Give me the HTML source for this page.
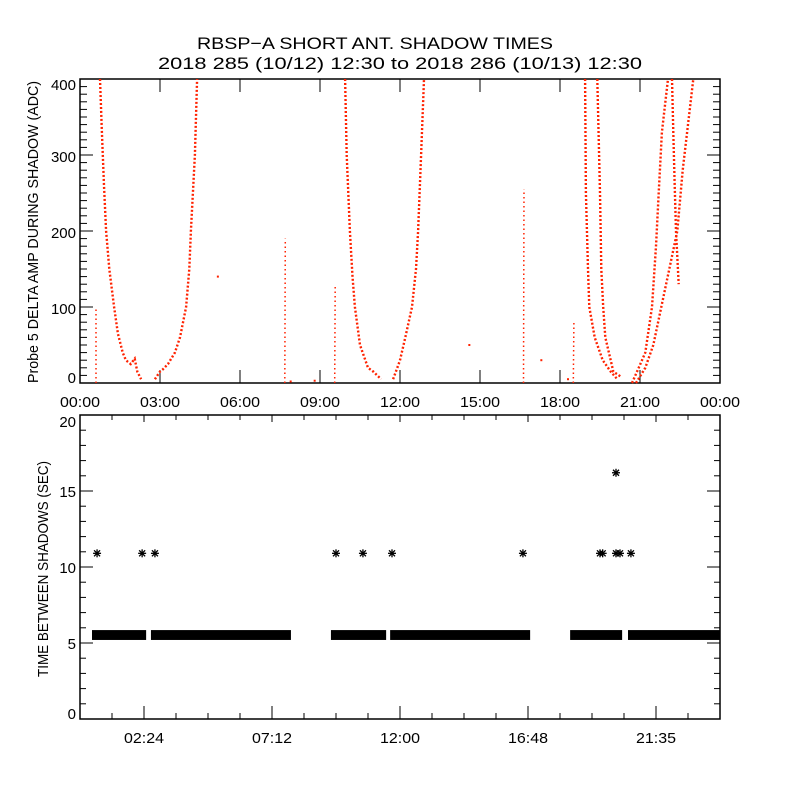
<!DOCTYPE html>
<html><head><meta charset="utf-8"><style>
html,body{margin:0;padding:0;background:#fff;}
svg{display:block;font-family:"Liberation Sans",sans-serif;}
</style></head><body>
<svg id="chart" width="800" height="800" viewBox="0 0 800 800">
<rect width="800" height="800" fill="#fff"/>
<text x="375" y="49" text-anchor="middle" font-size="17" textLength="356" lengthAdjust="spacingAndGlyphs">RBSP−A SHORT ANT. SHADOW TIMES</text>
<text x="400" y="69" text-anchor="middle" font-size="17" textLength="484" lengthAdjust="spacingAndGlyphs">2018 285 (10/12) 12:30 to 2018 286 (10/13) 12:30</text>
<g id="topPanel"></g>
<g id="botPanel"></g>
</svg>
<script>
// ---- data ----
const topXTicks = ["00:00","03:00","06:00","09:00","12:00","15:00","18:00","21:00","00:00"];
const topYTicks = [0,100,200,300,400];
const botXTicks = ["02:24","07:12","12:00","16:48","21:35"];
const botYTicks = [0,5,10,15,20];
// Top panel traces: [hour, ADC]
const trace1 = [[0.6,0],[0.6,100]];
const trace2 = [[0.75,400],[0.82,330],[0.9,260],[0.98,200],[1.1,150],[1.28,100],[1.42,65],[1.6,40],[1.72,30],[1.9,25],[2.05,32],[2.15,15],[2.29,5]];
const trace3 = [[2.81,5],[3.0,15],[3.11,18],[3.3,25],[3.56,40],[3.75,60],[3.98,100],[4.1,150],[4.16,200],[4.25,260],[4.31,300],[4.39,400]];
const trace4 = [[7.68,0],[7.7,190]];
const trace5 = [[9.55,0],[9.57,130]];
const trace6 = [[9.94,400],[10.0,300],[10.12,200],[10.22,140],[10.31,100],[10.5,50],[10.8,20],[11.0,15],[11.29,5]];
const trace7 = [[11.74,5],[11.9,20],[12.0,30],[12.2,60],[12.45,100],[12.6,150],[12.68,200],[12.79,300],[12.9,400]];
const trace8 = [[16.63,0],[16.65,255]];
const trace9 = [[18.5,0],[18.52,80]];
const trace10 = [[18.94,400],[18.97,250],[19.05,150],[19.1,100],[19.3,60],[19.6,30],[19.9,15],[20.15,5]];
const trace11 = [[19.4,400],[19.5,250],[19.55,150],[19.62,100],[19.7,60],[19.9,30],[20.0,15],[20.3,8]];
const trace12 = [[20.7,0],[20.95,20],[21.2,40],[21.45,100],[21.6,180],[21.7,250],[21.82,330],[22.05,400]];
const trace13 = [[20.85,0],[21.2,20],[21.5,50],[21.8,100],[22.1,150],[22.4,200],[22.6,280],[22.8,340],[23.0,400]];
const trace14 = [[22.2,400],[22.25,330],[22.3,260],[22.35,200],[22.45,130]];
const topTraces = [trace1,trace2,trace3,trace4,trace5,trace6,trace7,trace8,trace9,trace10,trace11,trace12,trace13,trace14];
const isolated = [[5.17,140],[7.9,2],[8.8,3],[14.6,50],[17.3,30],[18.3,5]];
// Bottom panel: band [startHour,endHour] at ~5.5 sec
const bandStart = [0.45,2.66,9.41,11.63,18.38,20.55];
const bandEnd   = [2.48,7.91,11.48,16.88,20.33,24.0];
const starHours = [0.64,2.33,2.81,9.60,10.61,11.70,16.61,19.5,19.6,20.1,20.25,20.66,20.1];
const starVals  = [10.9,10.9,10.9,10.9,10.9,10.9,10.9,10.9,10.9,10.9,10.9,10.9,16.2];

// ---- scales ----
const X0=80, X1=720;
const xs = h => X0 + h*(X1-X0)/24;
const yTop = v => 383 - v*(383-79)/400;
const yBot = v => 719 - v*(719-415)/20;
const NS="http://www.w3.org/2000/svg";
function mk(tag, parent, attrs){const e=document.createElementNS(NS,tag);for(const k in attrs)e.setAttribute(k,attrs[k]);parent.appendChild(e);return e;}

const topG=document.getElementById('topPanel'), botG=document.getElementById('botPanel');

let f=mk('rect',topG,{x:80,y:79,width:640,height:304,fill:'none',stroke:'#000','stroke-width':1.5});


topXTicks.forEach((t,i)=>{
  const x=X0+i*80;
  mk('line',topG,{x1:x,y1:383,x2:x,y2:370,stroke:'#000'});
  mk('line',topG,{x1:x,y1:79,x2:x,y2:92,stroke:'#000'});
  const tx=mk('text',topG,{x:x,y:407,'text-anchor':'middle','font-size':15,textLength:40,lengthAdjust:'spacingAndGlyphs'});
  tx.textContent=t;
  
  
});
for(let v=0;v<=400;v+=10){
  const y=yTop(v), L=(v%100===0)?13:7;
  mk('line',topG,{x1:80,y1:y,x2:80+L,y2:y,stroke:'#000'});
  mk('line',topG,{x1:720,y1:y,x2:720-L,y2:y,stroke:'#000'});
}
topYTicks.forEach(v=>{
  const off = v===0?0:(v===400?11:7);
  const tx=mk('text',topG,{x:76,y:yTop(v)+off,'text-anchor':'end','font-size':15});
  tx.textContent=v;
  
  
});
let yl=mk('text',topG,{x:0,y:0,transform:'translate(38,232) rotate(-90)','text-anchor':'middle','font-size':15,textLength:302,lengthAdjust:'spacingAndGlyphs'});
yl.textContent='Probe 5 DELTA AMP DURING SHADOW (ADC)';


topTraces.forEach((tr,i)=>{
  const pts=tr.map(p=>xs(p[0]).toFixed(1)+','+yTop(p[1]).toFixed(1)).join(' ');
  const dense = tr.length>2;
  const pl=mk('polyline',topG,{points:pts,fill:'none',stroke:'#ff2200','stroke-width':dense?2.4:1.5,'stroke-dasharray':dense?'2 2':'1.5 3'});
  
  
});
isolated.forEach(p=>{
  const r=mk('rect',topG,{x:xs(p[0])-1,y:yTop(p[1])-1,width:2,height:2,fill:'#ff2200'});
  
  
});

f=mk('rect',botG,{x:80,y:415,width:640,height:304,fill:'none',stroke:'#000','stroke-width':1.5});


for(let k=1;k<20;k++){
  const x=X0+k*32, major=((k-2)%4===0);
  mk('line',botG,{x1:x,y1:719,x2:x,y2:719-(major?13:6),stroke:'#000'});
  mk('line',botG,{x1:x,y1:415,x2:x,y2:415+(major?7:5),stroke:'#000'});
}
botXTicks.forEach((t,i)=>{
  const x=X0+64+i*128;
  const tx=mk('text',botG,{x:x,y:743,'text-anchor':'middle','font-size':15,textLength:40,lengthAdjust:'spacingAndGlyphs'});
  tx.textContent=t;
  
  
});
for(let v=0;v<=20;v++){
  const y=yBot(v), L=(v%5===0)?13:6;
  mk('line',botG,{x1:80,y1:y,x2:80+L,y2:y,stroke:'#000'});
  mk('line',botG,{x1:720,y1:y,x2:720-L,y2:y,stroke:'#000'});
}
botYTicks.forEach(v=>{
  const off = v===0?0:(v===20?12:6);
  const tx=mk('text',botG,{x:76,y:yBot(v)+off,'text-anchor':'end','font-size':15});
  tx.textContent=v;
  
  
});
yl=mk('text',botG,{x:0,y:0,transform:'translate(48,569) rotate(-90)','text-anchor':'middle','font-size':15,textLength:216,lengthAdjust:'spacingAndGlyphs'});
yl.textContent='TIME BETWEEN SHADOWS (SEC)';


bandStart.forEach((s,i)=>{
  const r=mk('rect',botG,{x:xs(s),y:yBot(5.85),width:xs(bandEnd[i])-xs(s),height:yBot(5.2)-yBot(5.85),fill:'#000'});
  
  
});
starHours.forEach((h,i)=>{
  const cx=xs(h), cy=yBot(starVals[i]);
  const g=mk('g',botG,{stroke:'#000','stroke-width':1.3});
  
  
  mk('line',g,{x1:cx-4,y1:cy,x2:cx+4,y2:cy});
  mk('line',g,{x1:cx,y1:cy-4,x2:cx,y2:cy+4});
  mk('line',g,{x1:cx-3,y1:cy-3,x2:cx+3,y2:cy+3});
  mk('line',g,{x1:cx-3,y1:cy+3,x2:cx+3,y2:cy-3});
});
</script>
</body></html>
